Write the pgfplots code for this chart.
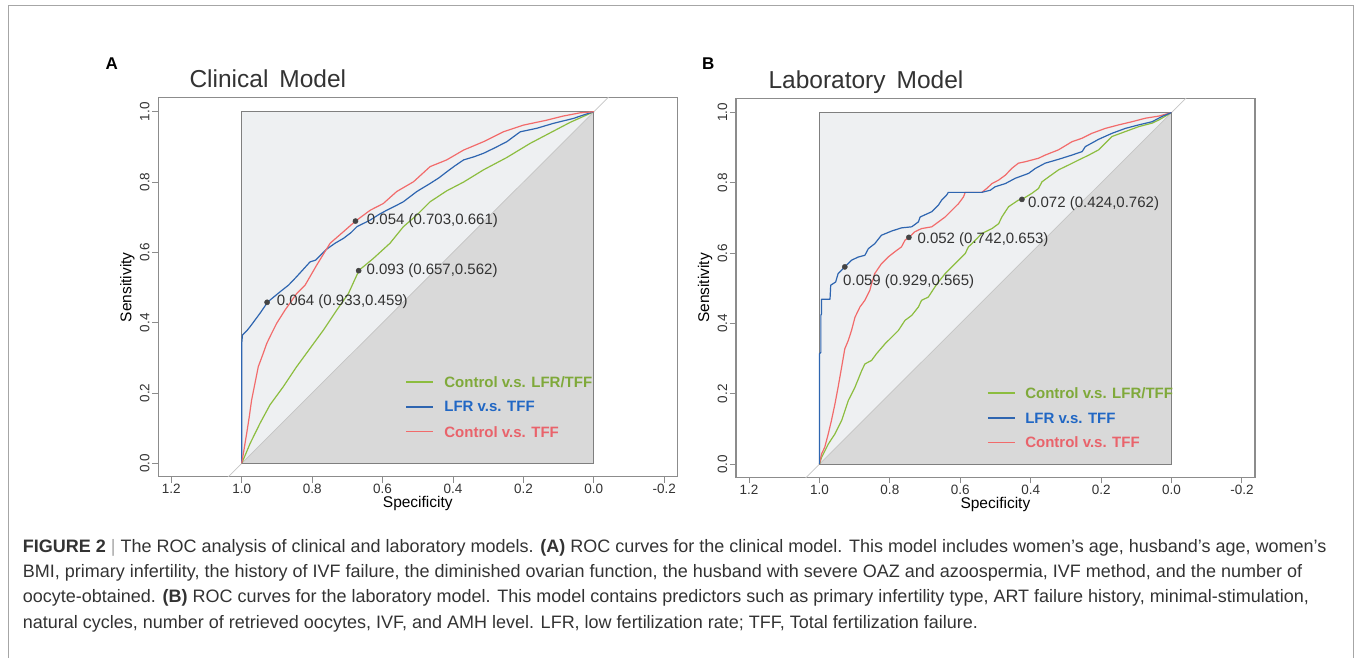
\documentclass[border=0pt]{standalone}
\usepackage{fontspec}
\setmainfont{Liberation Sans}
\usepackage{pgfplots}
\pgfplotsset{compat=1.18}

\definecolor{upfill}{HTML}{EEF0F2}
\definecolor{lowfill}{HTML}{D9D9D9}
\definecolor{sqgray}{HTML}{7F7F7F}
\definecolor{boxgray}{HTML}{8C8C8C}
\definecolor{diaggray}{HTML}{C4C4C4}
\definecolor{rocgreen}{HTML}{8CBD3F}
\definecolor{rocblue}{HTML}{2E65B0}
\definecolor{rocred}{HTML}{F26B6B}
\definecolor{txtgreen}{HTML}{7FA93A}
\definecolor{txtblue}{HTML}{2167C4}
\definecolor{txtred}{HTML}{E9636B}
\definecolor{dotgray}{HTML}{444444}
\definecolor{annot}{HTML}{333333}
\definecolor{framegray}{HTML}{A6A6A6}

\pgfplotsset{
  rocaxis/.style={
    scale only axis, width=519pt, height=379pt, anchor=south west,
    x dir=reverse, xmin=-0.237, xmax=1.237, ymin=-0.038, ymax=1.040,
    axis line style={draw=boxgray, line width=1.1pt},
    xtick={-0.2,0,0.2,0.4,0.6,0.8,1.0,1.2},
    xticklabels={-0.2,0.0,0.2,0.4,0.6,0.8,1.0,1.2},
    ytick={0,0.2,0.4,0.6,0.8,1.0},
    yticklabels={0.0,0.2,0.4,0.6,0.8,1.0},
    xtick pos=lower, ytick pos=left,
    tick align=outside, major tick length=6pt,
    tick style={boxgray, line width=1pt},
    ticklabel style={font=\fontsize{13.5}{15}\selectfont, text=annot},
    xticklabel style={inner sep=1.5pt},
    yticklabel style={rotate=90, anchor=south, inner sep=2.5pt},
  },
  roc/.style={line width=1.2pt, line join=round},
  legline/.style={line width=1.6pt},
  dots/.style={only marks, mark=*, mark size=2.6pt, color=dotgray},
}
\newcommand{\annfont}{\fontsize{15}{18}\selectfont}
\newcommand{\legfont}{\fontsize{15}{18}\selectfont\bfseries}

\begin{document}
\begin{tikzpicture}[x=1pt,y=1pt]
\path[use as bounding box] (0,0) rectangle (1356,658);
\draw[framegray, line width=1pt] (8,0) -- (8,652) -- (1353,652) -- (1353,0);

% ---------------- panel A ----------------
\begin{axis}[rocaxis, at={(158.3pt,181.3pt)}]
  \addplot[fill=upfill, draw=none] coordinates {(1,0) (1,1) (0,1) (1,0)};
  \addplot[fill=lowfill, draw=none] coordinates {(1,0) (0,0) (0,1) (1,0)};
  \addplot[diaggray, line width=0.7pt] coordinates {(1.1,-0.1) (-0.1,1.1)};
  \addplot[sqgray, line width=1.1pt] coordinates {(1,0) (1,1) (0,1) (0,0) (1,0)};

  % Control v.s. LFR/TFF
  \addplot[roc, rocgreen] coordinates {
    (1,0) (0.976,0.057) (0.948,0.114) (0.920,0.166) (0.882,0.218)
    (0.844,0.275) (0.806,0.327) (0.768,0.379) (0.730,0.436) (0.697,0.483)
    (0.667,0.549) (0.626,0.583) (0.579,0.626) (0.541,0.673) (0.503,0.706)
    (0.465,0.744) (0.418,0.775) (0.370,0.800) (0.313,0.835) (0.247,0.870)
    (0.181,0.910) (0.124,0.940) (0.067,0.970) (0,1)};
  % LFR v.s. TFF
  \addplot[roc, rocblue] coordinates {
    (1,0) (1,0.341) (0.998,0.365) (0.985,0.378) (0.976,0.389) (0.962,0.408)
    (0.948,0.427) (0.926,0.459) (0.908,0.474) (0.891,0.488) (0.867,0.507)
    (0.845,0.530) (0.825,0.552) (0.806,0.573) (0.790,0.578) (0.759,0.609)
    (0.735,0.626) (0.711,0.640) (0.690,0.656) (0.673,0.673) (0.635,0.692)
    (0.610,0.708) (0.588,0.720) (0.560,0.734) (0.541,0.744) (0.520,0.760)
    (0.503,0.773) (0.465,0.796) (0.440,0.812) (0.418,0.829) (0.395,0.846)
    (0.370,0.863) (0.340,0.872) (0.313,0.882) (0.280,0.898) (0.247,0.915)
    (0.220,0.935) (0.209,0.943) (0.162,0.953) (0.115,0.967) (0.058,0.981)
    (0.029,0.991) (0,1)};
  % Control v.s. TFF
  \addplot[roc, rocred] coordinates {
    (1,0) (0.986,0.085) (0.979,0.130) (0.972,0.180) (0.962,0.230)
    (0.953,0.275) (0.940,0.310) (0.929,0.341) (0.915,0.370) (0.901,0.398)
    (0.877,0.436) (0.844,0.483) (0.820,0.507) (0.787,0.564) (0.749,0.626)
    (0.711,0.659) (0.677,0.689) (0.635,0.720) (0.598,0.739) (0.560,0.773)
    (0.512,0.801) (0.465,0.844) (0.418,0.863) (0.370,0.891) (0.313,0.915)
    (0.257,0.943) (0.200,0.962) (0.134,0.976) (0.086,0.988) (0.039,0.997)
    (0,1)};

  \addplot[dots] coordinates {(0.677,0.689) (0.668,0.548) (0.928,0.458)};
  \node[anchor=west, inner sep=0pt, text=annot, font=\annfont] at (axis cs:0.645,0.690) {0.054 (0.703,0.661)};
  \node[anchor=west, inner sep=0pt, text=annot, font=\annfont] at (axis cs:0.646,0.549) {0.093 (0.657,0.562)};
  \node[anchor=west, inner sep=0pt, text=annot, font=\annfont] at (axis cs:0.901,0.459) {0.064 (0.933,0.459)};

  % legend
  \addplot[legline, rocgreen] coordinates {(0.533,0.232) (0.456,0.232)};
  \addplot[legline, rocblue] coordinates {(0.533,0.161) (0.456,0.161)};
  \addplot[legline, rocred] coordinates {(0.533,0.090) (0.456,0.090)};
  \node[anchor=west, inner sep=0pt, text=txtgreen, font=\legfont] at (axis cs:0.425,0.232) {Control v.s. LFR/TFF};
  \node[anchor=west, inner sep=0pt, text=txtblue, font=\legfont] at (axis cs:0.425,0.161) {LFR v.s. TFF};
  \node[anchor=west, inner sep=0pt, text=txtred, font=\legfont] at (axis cs:0.425,0.090) {Control v.s. TFF};
\end{axis}

% ---------------- panel B ----------------
\begin{axis}[rocaxis, at={(736pt,180.5pt)}]
  \addplot[fill=upfill, draw=none] coordinates {(1,0) (1,1) (0,1) (1,0)};
  \addplot[fill=lowfill, draw=none] coordinates {(1,0) (0,0) (0,1) (1,0)};
  \addplot[diaggray, line width=0.7pt] coordinates {(1.1,-0.1) (-0.1,1.1)};
  \addplot[sqgray, line width=1.1pt] coordinates {(1,0) (1,1) (0,1) (0,0) (1,0)};

  % Control v.s. LFR/TFF
  \addplot[roc, rocgreen] coordinates {
    (1,0) (0.994,0.019) (0.975,0.057) (0.956,0.086) (0.937,0.124)
    (0.918,0.181) (0.899,0.219) (0.880,0.266) (0.871,0.285) (0.852,0.295)
    (0.838,0.314) (0.814,0.342) (0.795,0.361) (0.776,0.380) (0.757,0.409)
    (0.738,0.423) (0.719,0.447) (0.710,0.466) (0.691,0.475) (0.672,0.504)
    (0.662,0.518) (0.643,0.542) (0.624,0.561) (0.605,0.580) (0.586,0.599)
    (0.577,0.618) (0.567,0.627) (0.539,0.656) (0.510,0.670) (0.491,0.684)
    (0.482,0.703) (0.463,0.732) (0.435,0.751) (0.425,0.753) (0.397,0.770)
    (0.378,0.784) (0.368,0.803) (0.349,0.817) (0.321,0.837) (0.292,0.851)
    (0.264,0.865) (0.235,0.879) (0.207,0.894) (0.188,0.913) (0.169,0.932)
    (0.131,0.946) (0.093,0.960) (0.055,0.970) (0.036,0.979) (0,1)};
  % Control v.s. TFF
  \addplot[roc, rocred] coordinates {
    (1,0) (0.994,0.029) (0.985,0.048) (0.975,0.086) (0.966,0.124)
    (0.956,0.171) (0.947,0.219) (0.937,0.276) (0.928,0.328) (0.918,0.352)
    (0.909,0.380) (0.899,0.418) (0.885,0.447) (0.871,0.466) (0.857,0.494)
    (0.852,0.513) (0.843,0.542) (0.824,0.570) (0.805,0.589) (0.786,0.604)
    (0.767,0.618) (0.757,0.637) (0.746,0.645) (0.729,0.661) (0.710,0.670)
    (0.681,0.675) (0.662,0.689) (0.643,0.703) (0.624,0.722) (0.605,0.741)
    (0.591,0.760) (0.586,0.773) (0.539,0.773) (0.525,0.784) (0.510,0.798)
    (0.491,0.808) (0.472,0.822) (0.454,0.841) (0.435,0.856) (0.416,0.860)
    (0.378,0.870) (0.359,0.879) (0.321,0.894) (0.283,0.917) (0.254,0.927)
    (0.226,0.941) (0.188,0.955) (0.150,0.965) (0.112,0.974) (0.074,0.984)
    (0.036,0.990) (0,1)};
  % LFR v.s. TFF
  \addplot[roc, rocblue] coordinates {
    (1,0) (1,0.314) (0.996,0.318) (0.996,0.423) (0.994,0.428) (0.994,0.469)
    (0.970,0.469) (0.968,0.509) (0.954,0.518) (0.947,0.542) (0.928,0.561)
    (0.909,0.580) (0.890,0.589) (0.871,0.594) (0.861,0.613) (0.843,0.627)
    (0.824,0.651) (0.795,0.663) (0.767,0.672) (0.738,0.675) (0.719,0.689)
    (0.714,0.703) (0.681,0.718) (0.662,0.737) (0.653,0.751) (0.639,0.765)
    (0.634,0.773) (0.539,0.773) (0.515,0.779) (0.501,0.789) (0.472,0.798)
    (0.444,0.813) (0.406,0.827) (0.387,0.841) (0.359,0.856) (0.321,0.867)
    (0.283,0.879) (0.254,0.889) (0.245,0.903) (0.207,0.924) (0.169,0.941)
    (0.131,0.955) (0.093,0.965) (0.055,0.974) (0.027,0.989) (0,1)};

  \addplot[dots] coordinates {(0.928,0.561) (0.746,0.645) (0.425,0.753)};
  \node[anchor=west, inner sep=0pt, text=annot, font=\annfont] at (axis cs:0.933,0.520) {0.059 (0.929,0.565)};
  \node[anchor=west, inner sep=0pt, text=annot, font=\annfont] at (axis cs:0.722,0.639) {0.052 (0.742,0.653)};
  \node[anchor=west, inner sep=0pt, text=annot, font=\annfont] at (axis cs:0.408,0.741) {0.072 (0.424,0.762)};

  % legend
  \addplot[legline, rocgreen] coordinates {(0.522,0.202) (0.446,0.202)};
  \addplot[legline, rocblue] coordinates {(0.522,0.131) (0.446,0.131)};
  \addplot[legline, rocred] coordinates {(0.522,0.062) (0.446,0.062)};
  \node[anchor=west, inner sep=0pt, text=txtgreen, font=\legfont] at (axis cs:0.416,0.202) {Control v.s. LFR/TFF};
  \node[anchor=west, inner sep=0pt, text=txtblue, font=\legfont] at (axis cs:0.416,0.131) {LFR v.s. TFF};
  \node[anchor=west, inner sep=0pt, text=txtred, font=\legfont] at (axis cs:0.416,0.062) {Control v.s. TFF};
\end{axis}

% panel letters, titles, axis labels
\node[font=\fontsize{17}{20}\selectfont\bfseries] at (111.7,594.7) {A};
\node[font=\fontsize{17}{20}\selectfont\bfseries] at (708.3,594.7) {B};
\node[anchor=base west, inner sep=0pt, text=annot, font=\fontsize{24.5}{28}\selectfont] at (189.3,570.5) {Clinical\hspace{0.45em}Model};
\node[anchor=base west, inner sep=0pt, text=annot, font=\fontsize{24.5}{28}\selectfont] at (768.3,569.5) {Laboratory\hspace{0.45em}Model};
\node[font=\fontsize{15.5}{18}\selectfont] at (417.8,154.7) {Specificity};
\node[font=\fontsize{15.5}{18}\selectfont] at (995.4,154.0) {Specificity};
\node[rotate=90, font=\fontsize{15.5}{18}\selectfont] at (127.3,370.8) {Sensitivity};
\node[rotate=90, font=\fontsize{15.5}{18}\selectfont] at (705.0,370.0) {Sensitivity};

% caption
\begin{scope}[every node/.style={anchor=base west, inner sep=0pt, text=annot, font=\fontsize{18}{25}\selectfont}]
\node at (22.7,105) {\textbf{FIGURE 2} {\color{framegray}|} The ROC analysis of clinical and laboratory models. \textbf{(A)} ROC curves for the clinical model. This model includes women’s age, husband’s age, women’s};
\node at (22.7,80) {BMI, primary infertility, the history of IVF failure, the diminished ovarian function, the husband with severe OAZ and azoospermia, IVF method, and the number of};
\node at (22.7,55) {oocyte-obtained. \textbf{(B)} ROC curves for the laboratory model. This model contains predictors such as primary infertility type, ART failure history, minimal-stimulation,};
\node at (22.7,30) {natural cycles, number of retrieved oocytes, IVF, and AMH level. LFR, low fertilization rate; TFF, Total fertilization failure.};
\end{scope}
\end{tikzpicture}
\end{document}
